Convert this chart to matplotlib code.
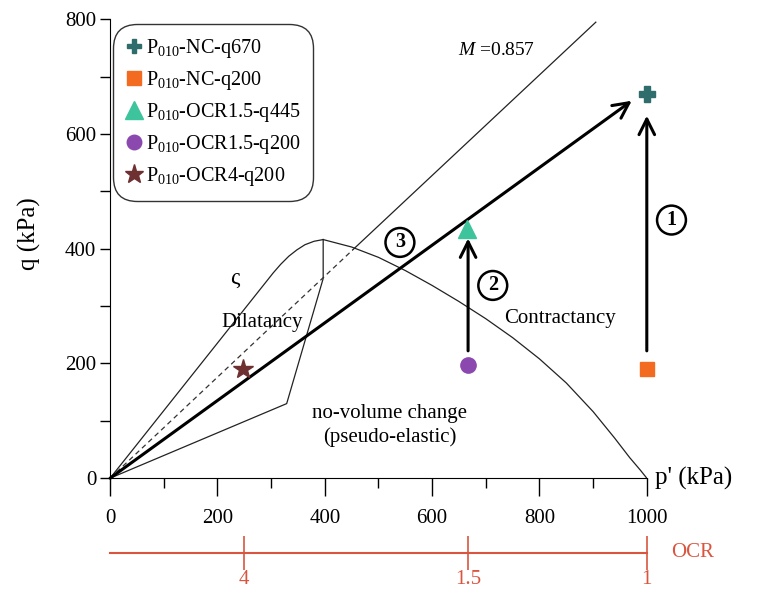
import numpy as np
import matplotlib.pyplot as plt

plt.rcParams['font.family'] = ['Liberation Serif', 'DejaVu Serif']
plt.rcParams['mathtext.fontset'] = 'custom'
plt.rcParams['mathtext.rm'] = 'Liberation Serif'
plt.rcParams['mathtext.it'] = 'Liberation Serif:italic'

# --- datos ---
# superficie de fluencia (zeta)
sup_izq_p = [0, 304, 318, 333, 348, 363, 380, 397]
sup_izq_q = [0, 358, 373, 387, 398, 407, 413, 416]
sup_der_p = [397, 450, 500, 550, 600, 650, 700, 750, 800, 850, 900, 940, 968, 988, 1000]
sup_der_q = [416, 403, 385, 362, 336, 308, 278, 245, 208, 166, 116, 70, 36, 14, 0]
# zona sin cambio de volumen
novol_p = [0, 329, 397, 397]
novol_q = [0, 130, 348, 416]
# linea de estado critico M
M = 0.857
m_disc_p = [0, 452]
m_disc_q = [0, 398]
m_sol_p = [452, 905]
m_sol_q = [398, 795]

# ensayos
nombres = ['P$_{010}$-NC-q670', 'P$_{010}$-NC-q200', 'P$_{010}$-OCR1.5-q445',
           'P$_{010}$-OCR1.5-q200', 'P$_{010}$-OCR4-q200']
ens_p = [1000, 1000, 665, 667, 248]
ens_q = [670, 190, 435, 197, 190]
marcas = ['P', 's', '^', 'o', '*']
colores = ['#2f6d6d', '#f26b21', '#3dc49c', '#8b48ae', '#6e3030']
tamanos = [11, 10, 13, 11, 15]

# trayectorias (inicio, fin, etiqueta)
tray = [((1000, 222), (1000, 632), '1', (1046, 450)),
        ((667, 222), (667, 418), '2', (713, 336)),
        ((0, 0), (972, 658), '3', (540, 411))]

ocr = [4, 1.5, 1]
p_nc = 1000

fig = plt.figure(figsize=(7.7, 6.03), dpi=100)
ax = fig.add_axes([0.143, 0.207, 0.697, 0.761])

ax.plot(sup_izq_p, sup_izq_q, color='#222222', lw=0.9)
ax.plot(sup_der_p, sup_der_q, color='#222222', lw=0.9)
ax.plot(novol_p, novol_q, color='#222222', lw=0.9)
ax.plot(m_disc_p, m_disc_q, color='#333333', lw=0.9, ls=(0, (4, 3)))
ax.plot(m_sol_p, m_sol_q, color='#222222', lw=0.9)

for ini, fin, etq, pos in tray:
    ax.annotate('', xy=fin, xytext=ini,
                arrowprops=dict(arrowstyle='->', lw=2.2, color='black',
                                mutation_scale=28, shrinkA=0, shrinkB=0))
    ax.text(pos[0], pos[1], etq, fontsize=14.5, fontweight='bold',
            ha='center', va='center', clip_on=False,
            bbox=dict(boxstyle='circle,pad=0.22', fc='white', ec='black', lw=1.8))

for i in range(5):
    ax.plot(ens_p[i], ens_q[i], ls='none', marker=marcas[i], color=colores[i],
            ms=tamanos[i], label=nombres[i], clip_on=False, zorder=5)

leg = ax.legend(loc='upper left', bbox_to_anchor=(0.006, 0.99), fontsize=14.5,
                handletextpad=0.15, handlelength=0.8, labelspacing=0.45,
                borderpad=0.35, borderaxespad=0.3, fancybox=True, framealpha=1,
                markerscale=0.95)
leg.get_frame().set_edgecolor('#333333')
leg.get_frame().set_linewidth(1.0)
leg.get_frame().set_boxstyle('round,pad=0.3,rounding_size=1.2')

ax.text(720, 746, '$\\mathit{M}$ =%.3f' % M, fontsize=14, ha='center', va='center')
ax.text(232, 348, 'ς', fontsize=17, ha='center', va='center')
ax.text(283, 272, 'Dilatancy', fontsize=15, ha='center', va='center')
ax.text(838, 279, 'Contractancy', fontsize=15, ha='center', va='center')
ax.text(521, 92, 'no-volume change\n(pseudo-elastic)', fontsize=15,
        ha='center', va='center', linespacing=1.3)

ax.set_xlim(0, 1000)
ax.set_ylim(0, 800)
ax.spines['top'].set_visible(False)
ax.spines['right'].set_visible(False)
ax.set_xticks(np.arange(0, 1001, 200))
ax.set_xticks(np.arange(100, 1000, 200), minor=True)
ax.set_yticks(np.arange(0, 801, 200))
ax.set_yticks(np.arange(100, 800, 200), minor=True)
ax.tick_params(axis='x', which='major', length=13, width=1, labelsize=15, pad=9)
ax.tick_params(axis='x', which='minor', length=7, width=1)
ax.tick_params(axis='y', which='both', length=7, width=1, labelsize=15, pad=3)
ax.text(1.015, 0, "p' (kPa)", transform=ax.transAxes, fontsize=18,
        ha='left', va='center')
ax.set_ylabel('q (kPa)', fontsize=18, labelpad=8)
ax.yaxis.set_label_coords(-0.128, 0.534)

# eje OCR
rojo = '#d9553f'
ax2 = fig.add_axes([0.143, 0.083, 0.697, 0.0001])
ax2.set_xlim(0, 1000)
ax2.set_yticks([])
for s in ['top', 'right', 'left']:
    ax2.spines[s].set_visible(False)
ax2.spines['bottom'].set_color(rojo)
ax2.spines['bottom'].set_linewidth(1.5)
ax2.set_xticks([p_nc / o for o in ocr], [str(o) for o in ocr])
ax2.tick_params(axis='x', direction='inout', length=24, width=1.2, color=rojo,
                labelcolor=rojo, labelsize=15, pad=0)
ax2.text(1.045, 0, 'OCR', transform=ax2.transAxes, color=rojo, fontsize=15,
         ha='left', va='center')

fig.savefig('out.png', dpi=100)
